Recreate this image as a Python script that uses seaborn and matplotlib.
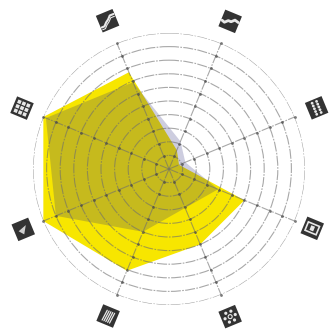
import matplotlib
matplotlib.use('Agg')
import matplotlib.pyplot as plt
import seaborn as sns
import numpy as np
import pandas as pd
from matplotlib.patches import Circle, Rectangle
from matplotlib.transforms import Affine2D

# Spoke angles, clockwise from north
angles_deg = [22.5, 67.5, 112.5, 157.5, 202.5, 247.5, 292.5, 337.5]
rings = [1, 2, 3, 4, 5, 6, 7, 8, 9, 10]

# Values, one per spoke
yellow_values = [1.5, 0.8, 6.0, 6.0, 8.1, 10.0, 10.0, 7.7]
gray_values = [2.2, 1.3, 3.9, 3.1, 5.0, 9.0, 9.8, 6.9]

icon_names = ['wave', 'lattice', 'frame', 'dots', 'lines', 'cone', 'grid', 'ribbon']
icon_radius = [11.75, 11.75, 11.4, 11.75, 11.7, 11.6, 11.7, 11.8]

sns.set_style('white')
fig = plt.figure(figsize=(3.34, 3.35), dpi=100)
ax = fig.add_axes([33 / 334, 30 / 335, 272 / 334, 272 / 335], projection='polar')
ax.set_theta_zero_location('N')
ax.set_theta_direction(-1)
ax.set_ylim(0, 10)

theta = np.deg2rad(angles_deg)
ax.fill(theta, yellow_values, color='#f7e600', lw=0, zorder=1)
ax.fill(theta, gray_values, color='#2e2e7d', alpha=0.24, lw=0, zorder=2)

# Rings and spokes
ax.set_rgrids(rings, labels=[])
ax.set_thetagrids(angles_deg, labels=[])
ax.set_axisbelow(False)
ax.grid(True, color='#6e6e6e', lw=0.8, alpha=0.6, linestyle=(0, (9, 1.2, 1.5, 1.2)), zorder=3)
ax.spines['polar'].set_visible(False)
ax.patch.set_alpha(0)

# Small dots where rings cross spokes
cross = pd.DataFrame([(a, r) for a in theta for r in rings], columns=['angle', 'ring'])
sns.scatterplot(data=cross, x='angle', y='ring', s=4, color='#444444', alpha=0.7, linewidth=0,
                ax=ax, clip_on=False, zorder=4, legend=False)
ax.set_xlabel('')
ax.set_ylabel('')


def draw_icon(name, x, y, rot):
    tr = Affine2D().rotate_deg(rot).translate(x, y)
    fig.add_artist(Rectangle((-9, -9), 18, 18, color='#333333', lw=0, transform=tr))
    white = '#e8e8e8'
    if name == 'grid':
        for i in (-1, 0, 1):
            for j in (-1, 0, 1):
                fig.add_artist(Rectangle((i * 4.8 - 1.8, j * 4.8 - 1.8), 3.6, 3.6, color=white, lw=0, transform=tr))
    elif name == 'lattice':
        for i in (-1, 1):
            for j in (-2, -1, 0, 1, 2):
                fig.add_artist(Circle((i * 2.4, j * 3), 1.4, color=white, lw=0, transform=tr))
    elif name == 'dots':
        for a in np.arange(0, 360, 60):
            fig.add_artist(Circle((5.5 * np.cos(np.deg2rad(a)), 5.5 * np.sin(np.deg2rad(a))), 1.6,
                                  color=white, lw=0, transform=tr))
        fig.add_artist(Circle((0, 0), 2, fill=False, ec=white, lw=0.8, transform=tr))
    elif name == 'frame':
        fig.add_artist(Rectangle((-6, -4.5), 12, 9, fill=False, ec=white, lw=1.2, transform=tr))
        fig.add_artist(Rectangle((-2, -2.5), 4, 5, color=white, lw=0, transform=tr))
    elif name == 'lines':
        for i in (-4, -2, 0, 2, 4):
            fig.add_artist(plt.Line2D([i, i + 1], [-6, 5], color=white, lw=0.9, transform=tr))
    elif name == 'cone':
        fig.add_artist(plt.Polygon([(-5, 0), (4, 3), (-1, -5)], color='#cfcfcf', lw=0, transform=tr))
    elif name == 'wave' or name == 'ribbon':
        xs = [-8, -5, -2, 1, 4, 8]
        ys = [-2, -3, 0, 0, 3, 2] if name == 'wave' else [-4, -4, -1, 1, 4, 4]
        fig.add_artist(plt.Line2D(xs, ys, color=white, lw=2 if name == 'wave' else 1.5, transform=tr))
        if name == 'ribbon':
            fig.add_artist(plt.Line2D(xs, [v - 2.5 for v in ys], color=white, lw=0.8, transform=tr))


# Icons sit outside the outer ring
fig.canvas.draw()
for ang, name, rad in zip(theta, icon_names, icon_radius):
    px, py = ax.transData.transform((ang, rad))
    tilt = ((-np.rad2deg(ang) + 45) % 90) - 45
    draw_icon(name, px, py, tilt)

fig.savefig('out.png', dpi=100)
